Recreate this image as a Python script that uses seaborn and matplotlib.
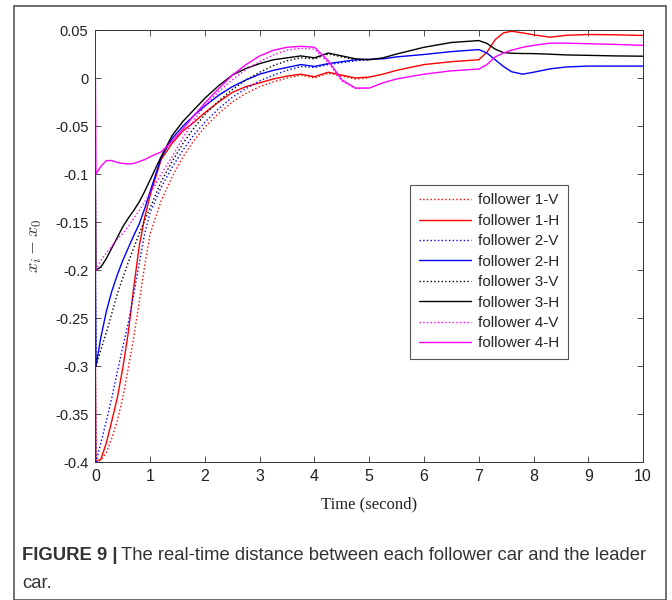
import numpy as np
import pandas as pd
import matplotlib
matplotlib.use("Agg")
import matplotlib.pyplot as plt
import seaborn as sns
from matplotlib.patches import Rectangle

# --- datos (tiempo en s, distancia x_i - x_0) ---
t = [0, 0.01, 0.1, 0.2, 0.3, 0.4, 0.5, 0.6, 0.7, 0.8, 0.9, 1.0, 1.2, 1.4, 1.6, 1.8,
     2.0, 2.25, 2.5, 2.75, 3.0, 3.25, 3.5, 3.75, 4.0, 4.25, 4.5, 4.75, 5.0, 5.25, 5.5,
     6.0, 6.5, 7.0, 7.15, 7.3, 7.45, 7.6, 7.8, 8.0, 8.3, 8.6, 9.0, 9.5, 10]
t_v = t[:29]  # las curvas V llegan hasta 5 s

f1_h = [-0.3, -0.4, -0.397, -0.38, -0.357, -0.333, -0.302, -0.265, -0.218, -0.175, -0.145, -0.122,
        -0.085, -0.068, -0.055, -0.046, -0.036, -0.025, -0.015, -0.009, -0.005, -0.001, 0.002, 0.004,
        0.0013, 0.006, 0.003, 0.0, 0.001, 0.004, 0.008, 0.014, 0.017, 0.019, 0.027, 0.04, 0.047,
        0.0487, 0.047, 0.045, 0.0425, 0.0445, 0.0453, 0.045, 0.0443]
f2_h = [-0.2, -0.3, -0.27, -0.243, -0.222, -0.205, -0.19, -0.177, -0.164, -0.152, -0.136, -0.118,
        -0.083, -0.063, -0.05, -0.039, -0.029, -0.018, -0.009, -0.002, 0.004, 0.008, 0.011, 0.014,
        0.012, 0.015, 0.017, 0.019, 0.0195, 0.02, 0.022, 0.0245, 0.0275, 0.0296, 0.026, 0.019, 0.012,
        0.0065, 0.004, 0.006, 0.0095, 0.0115, 0.0124, 0.0124, 0.0124]
f3_h = [-0.1, -0.2, -0.197, -0.188, -0.177, -0.166, -0.155, -0.146, -0.138, -0.129, -0.118, -0.106,
        -0.082, -0.06, -0.045, -0.033, -0.021, -0.008, 0.003, 0.01, 0.015, 0.019, 0.021, 0.023,
        0.021, 0.026, 0.023, 0.02, 0.019, 0.021, 0.025, 0.032, 0.037, 0.039, 0.036, 0.03, 0.0265,
        0.0258, 0.0255, 0.0254, 0.0248, 0.024, 0.0236, 0.023, 0.0227]
f4_h = [0.0, -0.1, -0.092, -0.086, -0.086, -0.088, -0.089, -0.0895, -0.089, -0.087, -0.085, -0.082,
        -0.077, -0.066, -0.053, -0.039, -0.026, -0.011, 0.003, 0.014, 0.023, 0.029, 0.032, 0.033,
        0.032, 0.018, -0.002, -0.0105, -0.0105, -0.005, -0.001, 0.004, 0.0075, 0.0093, 0.014, 0.022,
        0.026, 0.029, 0.032, 0.034, 0.0363, 0.0363, 0.0357, 0.035, 0.034]

f1_v = [-0.4, -0.4, -0.398, -0.39, -0.375, -0.357, -0.333, -0.302, -0.27, -0.233, -0.195, -0.162,
        -0.128, -0.103, -0.082, -0.065, -0.051, -0.037, -0.025, -0.016, -0.009, -0.004, 0.0, 0.003,
        0.0, 0.005, 0.002, -0.001, 0.0]
f2_v = [-0.3, -0.4, -0.38, -0.357, -0.333, -0.306, -0.28, -0.255, -0.225, -0.193, -0.162, -0.14,
        -0.114, -0.093, -0.075, -0.059, -0.046, -0.032, -0.02, -0.011, -0.003, 0.003, 0.008, 0.012,
        0.011, 0.014, 0.016, 0.018, 0.019]
f3_v = [-0.2, -0.3, -0.283, -0.265, -0.245, -0.225, -0.208, -0.192, -0.177, -0.162, -0.148, -0.135,
        -0.108, -0.087, -0.068, -0.052, -0.038, -0.024, -0.012, -0.002, 0.006, 0.013, 0.018, 0.021,
        0.02, 0.025, 0.022, 0.019, 0.019]
f4_v = [-0.1, -0.2, -0.19, -0.182, -0.175, -0.168, -0.162, -0.155, -0.146, -0.138, -0.129, -0.12,
        -0.1, -0.082, -0.062, -0.044, -0.029, -0.014, -0.002, 0.009, 0.017, 0.024, 0.029, 0.031,
        0.03, 0.016, -0.003, -0.011, -0.0105]

etiquetas = ["follower 1-V", "follower 1-H", "follower 2-V", "follower 2-H",
             "follower 3-V", "follower 3-H", "follower 4-V", "follower 4-H"]
series = [f1_v, f1_h, f2_v, f2_h, f3_v, f3_h, f4_v, f4_h]
colores = ["#ff0000", "#ff0000", "#0000ff", "#0000ff", "#000000", "#000000", "#ff00ff", "#ff00ff"]

x_ticks = list(range(0, 11))
y_ticks = [0.05, 0, -0.05, -0.1, -0.15, -0.2, -0.25, -0.3, -0.35, -0.4]
y_ticklabels = ["0.05", "0", "-0.05", "-0.1", "-0.15", "-0.2", "-0.25", "-0.3", "-0.35", "-0.4"]

# --- figura ---
sns.set_style("ticks")
plt.rcParams["font.family"] = ["Liberation Sans", "DejaVu Sans"]
plt.rcParams["mathtext.fontset"] = "cm"

fig = plt.figure(figsize=(6.72, 6.0), dpi=100)
ax = fig.add_axes([0.142, 0.23, 0.815, 0.72])

for etiqueta, valores, color in zip(etiquetas, series, colores):
    tiempos = t if etiqueta.endswith("H") else t_v
    df = pd.DataFrame({"t": tiempos, "d": valores})
    estilo = "-" if etiqueta.endswith("H") else ":"
    sns.lineplot(data=df, x="t", y="d", ax=ax, color=color, linestyle=estilo,
                 linewidth=1.0, label=etiqueta, sort=False, estimator=None)

ax.set_xlim(0, 10)
ax.set_ylim(-0.4, 0.05)
ax.set_xticks(x_ticks)
ax.set_xticklabels([str(v) for v in x_ticks], fontsize=11.5)
ax.set_yticks(y_ticks)
ax.set_yticklabels(y_ticklabels, fontsize=10.5)
ax.tick_params(direction="in", top=True, right=True, length=4, width=0.6,
               color="#333333", labelcolor="#222222")
ax.tick_params(axis="y", pad=5)
ax.tick_params(axis="x", pad=5)
for lado in ax.spines.values():
    lado.set_visible(True)
    lado.set_linewidth(0.7)
    lado.set_color("#333333")

ax.set_xlabel("Time (second)", family="Liberation Serif", fontsize=12, color="#222222", labelpad=9)
ax.set_ylabel(r"$x_i - x_0$", fontsize=13, color="#333333", labelpad=8)

leg = ax.legend(loc="upper right", bbox_to_anchor=(0.863, 0.641), borderaxespad=0,
                fontsize=11, handlelength=3.4, labelspacing=0.42, handletextpad=0.5,
                fancybox=False, framealpha=1, edgecolor="#555555", borderpad=0.55)
leg.get_frame().set_linewidth(0.8)

# marco exterior y pie de figura
fig.patches.append(Rectangle((14 / 672, 0.0), 652 / 672, 594 / 600, transform=fig.transFigure,
                             fill=False, edgecolor="#555555", linewidth=1.2))
negrita = fig.text(22 / 672, 1 - 556 / 600, "FIGURE 9 |", fontsize=13.3, fontweight="bold",
                   color="#333333", va="center")
fig.canvas.draw()
bb = negrita.get_window_extent(fig.canvas.get_renderer())
fig.text(bb.x1 / fig.bbox.width + 0.005, 1 - 556 / 600,
         "The real-time distance between each follower car and the leader",
         fontsize=13.3, color="#333333", va="center")
fig.text(22 / 672, 1 - 583 / 600, "car.", fontsize=13.3, color="#333333", va="center")

fig.savefig("out.png", dpi=100)
